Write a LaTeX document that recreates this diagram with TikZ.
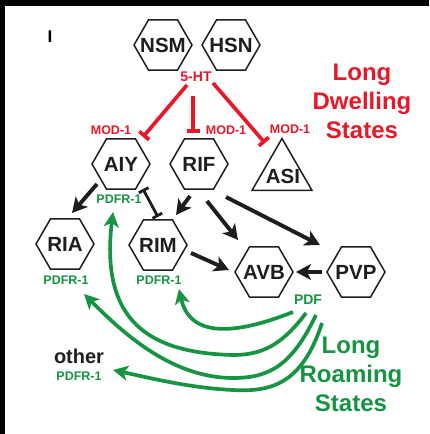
\documentclass[tikz,border=0pt]{standalone}
\usepackage{fontspec}
\setmainfont{Liberation Sans}
\usetikzlibrary{arrows.meta,shapes.geometric}
\definecolor{dred}{RGB}{232,24,40}
\definecolor{dgreen}{RGB}{22,148,66}
\definecolor{dline}{RGB}{30,30,30}
\tikzset{
  hexnode/.style={shape=regular polygon, regular polygon sides=6, minimum size=58pt,
    inner sep=0pt, draw=dline, line width=1.5pt, font=\fontsize{20.5}{20}\selectfont\bfseries, text=dline},
  trinode/.style={shape=regular polygon, regular polygon sides=3, minimum size=69pt,
    inner sep=0pt, draw=dline, line width=1.5pt},
  lbl/.style={inner sep=0pt, font=\fontsize{12.5}{12.5}\selectfont\bfseries},
  blackarrow/.style={draw=dline, line width=3.9pt, -{Stealth[length=15pt,width=16pt,inset=4pt]}},
  redbar/.style={draw=dred, line width=3.7pt, -{Bar[width=13pt]}},
  greenarrow/.style={draw=dgreen, line width=3.7pt, -{Stealth[length=15pt,width=15pt,inset=4pt]}},
  bigtext/.style={inner sep=0pt, align=center, font=\fontsize{24}{29}\selectfont\bfseries},
}
\begin{document}
\begin{tikzpicture}[x=1pt,y=-1pt]
\useasboundingbox (0,0) rectangle (429,434);
\fill[white] (0,0) rectangle (429,434);
\fill[black] (0,0) rectangle (429,6);
\fill[black] (0,0) rectangle (5,434);

\node[inner sep=0pt, font=\fontsize{17}{17}\selectfont\bfseries] (panel) at (50,37) {I};

% neurons
\node[hexnode] (nsm) at (163,45) {\makebox[0pt]{NSM}};
\node[hexnode] (hsn) at (231,45) {\makebox[0pt]{HSN}};
\node[hexnode] (aiy) at (121,164) {\makebox[0pt]{AIY}};
\node[hexnode] (rif) at (199,164) {\makebox[0pt]{RIF}};
\node[trinode] (asi) at (282,173) {};
\node[inner sep=0pt, font=\fontsize{20.5}{20}\selectfont\bfseries, text=dline] (asitxt) at (283,176) {ASI};
\node[hexnode] (ria) at (65,244) {\makebox[0pt]{RIA}};
\node[hexnode] (rim) at (158,245) {\makebox[0pt]{RIM}};
\node[hexnode] (avb) at (264,272) {\makebox[0pt]{AVB}};
\node[hexnode] (pvp) at (356,272) {\makebox[0pt]{PVP}};

% labels
\node[lbl, text=dred, font=\fontsize{14}{14}\selectfont\bfseries] (ht) at (196,77) {5-HT};
\node[lbl, text=dred] (mod1) at (111,130) {MOD-1};
\node[lbl, text=dred] (mod2) at (226,130) {MOD-1};
\node[lbl, text=dred] (mod3) at (290,129) {MOD-1};
\node[lbl, text=dgreen] (pa) at (119,199) {PDFR-1};
\node[lbl, text=dgreen] (pb) at (66,280) {PDFR-1};
\node[lbl, text=dgreen] (pc) at (159,280) {PDFR-1};
\node[lbl, text=dgreen, font=\fontsize{14}{14}\selectfont\bfseries] (pdf) at (308,300) {PDF};
\node[inner sep=0pt, font=\fontsize{20}{20}\selectfont\bfseries, text=dline] (other) at (79,356) {other};
\node[lbl, text=dgreen] (pd) at (79,376) {PDFR-1};

\node[bigtext, text=dred] (dwell) at (362,101) {Long\\Dwelling\\States};
\node[bigtext, text=dgreen] (roam) at (351,374) {Long\\Roaming\\States};

% red inhibitory connections
\draw[redbar] ([shift={(-9,8)}]ht.center) -- ([shift={(22,-27)}]aiy.center);
\draw[redbar] ([shift={(-3,19)}]ht.center) -- ([shift={(-6,-31)}]rif.center);
\draw[redbar] ([shift={(17,6)}]ht.center) -- ([shift={(-17,-30)}]asi.center);

% black connections
\draw[blackarrow] ([shift={(-24,20)}]aiy.center) -- ([shift={(7,-31)}]ria.center);
\draw[draw=dline, line width=2.8pt, {Bar[width=11pt]}-{Bar[width=11pt]}] ([shift={(22,25)}]aiy.center) -- ([shift={(0,-28)}]rim.center);
\draw[blackarrow] ([shift={(-9,32)}]rif.center) -- ([shift={(18,-30)}]rim.center);
\draw[blackarrow] ([shift={(8,37)}]rif.center) -- ([shift={(-26,-32)}]avb.center);
\draw[blackarrow] ([shift={(27,33)}]rif.center) -- ([shift={(-36,-27)}]pvp.center);
\draw[blackarrow] ([shift={(33,8)}]rim.center) -- ([shift={(-35,-2)}]avb.center);
\draw[blackarrow] ([shift={(-34,0)}]pvp.center) -- ([shift={(32,0)}]avb.center);

% green PDF connections
\draw[greenarrow] ([shift={(-15,12)}]pdf.center) .. controls (235,335) and (190,338) .. ([shift={(20,9)}]pc.center);
\draw[greenarrow] ([shift={(-2,13)}]pdf.center) .. controls (282,345) and (262,355) .. (233,355)
   .. controls (150,353) and (100,322) .. ([shift={(-6,13)}]pa.center);
\draw[greenarrow] ([shift={(8,15)}]pdf.center) .. controls (292,365) and (270,378) .. (233,378)
   .. controls (170,378) and (120,330) .. ([shift={(18,14)}]pb.center);
\draw[greenarrow] ([shift={(14,23)}]pdf.center) .. controls (302,385) and (270,392) .. (233,390)
   .. controls (190,388) and (150,378) .. ([shift={(34,-6)}]pd.center);
\end{tikzpicture}
\end{document}
